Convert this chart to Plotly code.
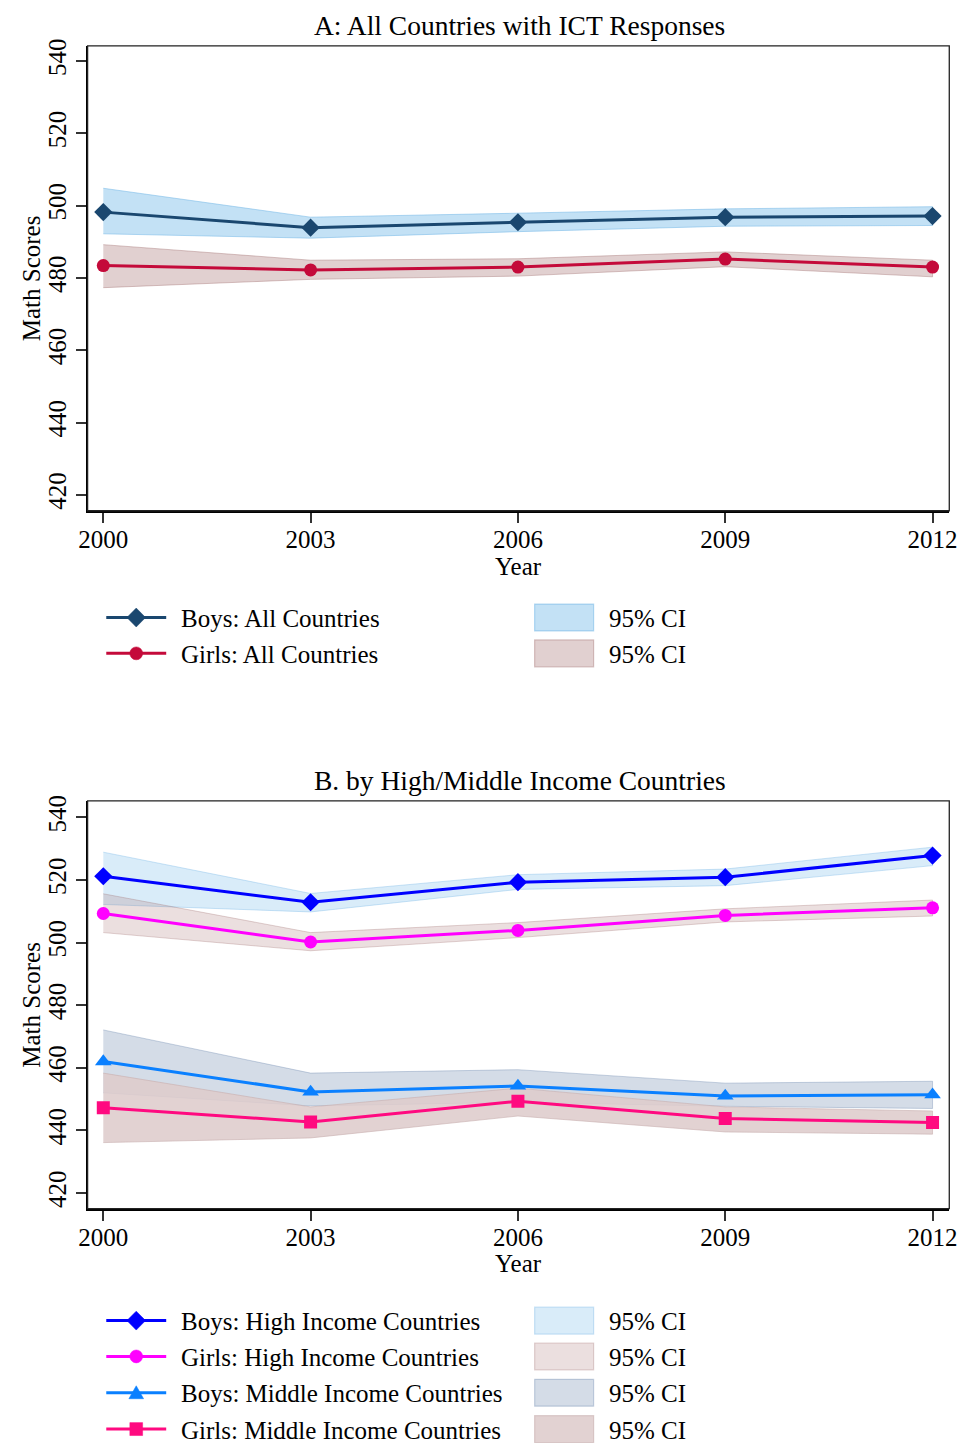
import plotly.graph_objects as go

# ---------------- data ----------------
years = [2000, 2003, 2006, 2009, 2012]
year_ticks = [2000, 2003, 2006, 2009, 2012]
score_ticks = [420, 440, 460, 480, 500, 520, 540]

# Panel A: all countries
boys_all = [498.2, 493.9, 495.4, 496.8, 497.1]
boys_all_lo = [492.2, 491.0, 492.8, 494.3, 494.5]
boys_all_hi = [504.8, 496.8, 497.9, 499.1, 499.7]
girls_all = [483.4, 482.2, 483.0, 485.2, 483.0]
girls_all_lo = [477.3, 479.6, 480.5, 483.1, 480.3]
girls_all_hi = [489.2, 484.9, 485.3, 487.2, 484.9]

# Panel B: high / middle income countries
boys_high = [521.2, 512.9, 519.3, 520.9, 527.8]
boys_high_lo = [512.2, 509.8, 517.0, 518.2, 524.6]
boys_high_hi = [528.9, 515.7, 521.7, 523.5, 530.5]
girls_high = [509.3, 500.2, 503.9, 508.7, 511.1]
girls_high_lo = [503.2, 497.4, 501.6, 506.6, 508.5]
girls_high_hi = [515.6, 503.2, 506.4, 510.8, 513.6]
boys_mid = [462.0, 452.3, 454.2, 451.0, 451.4]
boys_mid_lo = [452.0, 447.8, 449.0, 447.7, 447.0]
boys_mid_hi = [472.1, 458.3, 459.4, 455.1, 455.7]
girls_mid = [447.2, 442.7, 449.3, 443.8, 442.5]
girls_mid_lo = [436.1, 437.6, 444.6, 439.5, 438.8]
girls_mid_hi = [458.3, 447.5, 453.5, 447.5, 446.2]

titles = ["A: All Countries with ICT Responses", "B. by High/Middle Income Countries"]
legend_a = ["Boys: All Countries", "Girls: All Countries"]
legend_b = ["Boys: High Income Countries", "Girls: High Income Countries",
            "Boys: Middle Income Countries", "Girls: Middle Income Countries"]
ci_label = "95% CI"
y_title = "Math Scores"
x_title = "Year"

# ---------------- styling ----------------
W, H = 973, 1444
FONT = "Liberation Serif"

C_BOYS_ALL = "#1a476f"
C_GIRLS_ALL = "#c40a3a"
C_BOYS_HIGH = "#0000ff"
C_GIRLS_HIGH = "#ff00ff"
C_BOYS_MID = "#0a80ff"
C_GIRLS_MID = "#ff0a80"

F_BOYS_ALL = ("rgba(130,192,235,0.48)", "rgba(120,185,232,0.55)")
F_GIRLS_ALL = ("rgba(170,120,120,0.35)", "rgba(160,110,110,0.40)")
F_BOYS_HIGH = ("rgba(130,192,235,0.30)", "rgba(120,185,232,0.38)")
F_GIRLS_HIGH = ("rgba(170,120,120,0.24)", "rgba(160,110,110,0.30)")
F_BOYS_MID = ("rgba(100,130,170,0.28)", "rgba(100,130,170,0.34)")
F_GIRLS_MID = ("rgba(222,204,204,0.88)", "rgba(200,175,175,0.6)")


def px_x(p):
    return p / W


def px_y(p):
    return 1 - p / H


fig = go.Figure()


def band(lo, hi, fills, xa, ya):
    fig.add_trace(go.Scatter(
        x=years + years[::-1], y=hi + lo[::-1], fill="toself",
        fillcolor=fills[0], line=dict(color=fills[1], width=1),
        mode="lines", hoverinfo="skip", showlegend=False, xaxis=xa, yaxis=ya))


def line(vals, color, symbol, size, xa, ya, name):
    fig.add_trace(go.Scatter(
        x=years, y=vals, mode="lines+markers", name=name,
        line=dict(color=color, width=3),
        marker=dict(symbol=symbol, size=size, color=color),
        showlegend=False, xaxis=xa, yaxis=ya))


# Panel A
band(boys_all_lo, boys_all_hi, F_BOYS_ALL, "x", "y")
band(girls_all_lo, girls_all_hi, F_GIRLS_ALL, "x", "y")
line(boys_all, C_BOYS_ALL, "diamond", 14, "x", "y", legend_a[0])
line(girls_all, C_GIRLS_ALL, "circle", 13, "x", "y", legend_a[1])

# Panel B
band(boys_high_lo, boys_high_hi, F_BOYS_HIGH, "x2", "y2")
band(girls_high_lo, girls_high_hi, F_GIRLS_HIGH, "x2", "y2")
band(boys_mid_lo, boys_mid_hi, F_BOYS_MID, "x2", "y2")
band(girls_mid_lo, girls_mid_hi, F_GIRLS_MID, "x2", "y2")
line(boys_high, C_BOYS_HIGH, "diamond", 14, "x2", "y2", legend_b[0])
line(girls_high, C_GIRLS_HIGH, "circle", 13, "x2", "y2", legend_b[1])
line(boys_mid, C_BOYS_MID, "triangle-up", 14.5, "x2", "y2", legend_b[2])
line(girls_mid, C_GIRLS_MID, "square", 13, "x2", "y2", legend_b[3])

# ---------------- axes ----------------
xdom = [px_x(80), px_x(957)]
ydomA = [px_y(506.2), px_y(39)]
ydomB = [px_y(1207.5), px_y(797.7)]

xcommon = dict(
    domain=xdom, range=[1999.773, 2012.242], tickmode="array", tickvals=year_ticks,
    ticktext=[str(t) for t in year_ticks], ticks="outside", ticklen=10, tickwidth=1.5,
    tickcolor="#333333", showline=True, linewidth=2, linecolor="black",
    showgrid=False, zeroline=False, tickfont=dict(family=FONT, size=25, color="black"),
    ticklabelstandoff=-5,
)
ycommon = dict(
    tickmode="array", tickvals=score_ticks, ticktext=[str(t) for t in score_ticks],
    ticks="outside", ticklen=10, tickwidth=1.5, tickcolor="#333333",
    showline=True, linewidth=2, linecolor="black", showgrid=False, zeroline=False,
    tickangle=-90, tickfont=dict(family=FONT, size=25, color="black"),
)

fig.update_layout(
    width=W, height=H, autosize=False,
    margin=dict(l=0, r=0, t=0, b=0),
    paper_bgcolor="white", plot_bgcolor="white",
    font=dict(family=FONT, size=25, color="black"),
    xaxis=dict(xcommon, anchor="y"),
    yaxis=dict(ycommon, domain=ydomA, range=[415.6, 544.2], anchor="x"),
    xaxis2=dict(xcommon, anchor="y2"),
    yaxis2=dict(ycommon, domain=ydomB, range=[415.0, 545.3], anchor="x2"),
    showlegend=False,
)

shapes = []
annotations = []

# plot borders (top/right thinner)
for xr, yr in (("x domain", "y domain"), ("x2 domain", "y2 domain")):
    shapes.append(dict(type="rect", xref=xr, yref=yr, x0=0, x1=1, y0=0, y1=1,
                       line=dict(color="#222222", width=1.3), layer="above"))


def text(t, x, y, size=25, angle=0, xanchor="center"):
    annotations.append(dict(text=t, x=px_x(x), y=px_y(y), xref="paper", yref="paper",
                            showarrow=False, xanchor=xanchor, yanchor="middle",
                            textangle=angle, font=dict(family=FONT, size=size, color="black")))


# titles and axis titles
text(titles[0], 520, 19, size=27.5)
text(titles[1], 520, 777, size=27.5)
text(x_title, 519, 562)
text(x_title, 519, 1262.5)
text(y_title, 23, 273, angle=-90)
text(y_title, 23, 1003, angle=-90)


def marker_shape(symbol, cx, cy, color):
    if symbol == "diamond":
        r = 9.5
        path = (f"M{px_x(cx - r)},{px_y(cy)} L{px_x(cx)},{px_y(cy - r)} "
                f"L{px_x(cx + r)},{px_y(cy)} L{px_x(cx)},{px_y(cy + r)} Z")
        return dict(type="path", path=path, xref="paper", yref="paper",
                    fillcolor=color, line=dict(color=color, width=0.5))
    if symbol == "circle":
        r = 6.5
        return dict(type="circle", xref="paper", yref="paper",
                    x0=px_x(cx - r), x1=px_x(cx + r), y0=px_y(cy + r), y1=px_y(cy - r),
                    fillcolor=color, line=dict(color=color, width=0.5))
    if symbol == "triangle":
        r = 7.5
        path = (f"M{px_x(cx - r)},{px_y(cy + 6)} L{px_x(cx + r)},{px_y(cy + 6)} "
                f"L{px_x(cx)},{px_y(cy - 7)} Z")
        return dict(type="path", path=path, xref="paper", yref="paper",
                    fillcolor=color, line=dict(color=color, width=0.5))
    r = 6.5
    return dict(type="rect", xref="paper", yref="paper",
                x0=px_x(cx - r), x1=px_x(cx + r), y0=px_y(cy + r), y1=px_y(cy - r),
                fillcolor=color, line=dict(color=color, width=0.5))


def legend_row(cy, label, color, symbol, fills):
    shapes.append(dict(type="line", xref="paper", yref="paper", x0=px_x(99), x1=px_x(160),
                       y0=px_y(cy), y1=px_y(cy), line=dict(color=color, width=3)))
    shapes.append(marker_shape(symbol, 129.5, cy, color))
    text(label, 173, cy + 1, xanchor="left")
    shapes.append(dict(type="rect", xref="paper", yref="paper",
                       x0=px_x(535), x1=px_x(595), y0=px_y(cy + 13.5), y1=px_y(cy - 13.5),
                       fillcolor=fills[0], line=dict(color=fills[1], width=1.2)))
    text(ci_label, 609, cy + 1, xanchor="left")


legend_row(613.5, legend_a[0], C_BOYS_ALL, "diamond", F_BOYS_ALL)
legend_row(649.5, legend_a[1], C_GIRLS_ALL, "circle", F_GIRLS_ALL)
legend_row(1320, legend_b[0], C_BOYS_HIGH, "diamond", F_BOYS_HIGH)
legend_row(1356, legend_b[1], C_GIRLS_HIGH, "circle", F_GIRLS_HIGH)
legend_row(1392.5, legend_b[2], C_BOYS_MID, "triangle", F_BOYS_MID)
legend_row(1429, legend_b[3], C_GIRLS_MID, "square", F_GIRLS_MID)

fig.update_layout(shapes=shapes, annotations=annotations)

fig.write_html("out.html", config={"displayModeBar": False},
               post_script="document.body.style.margin='0';")
